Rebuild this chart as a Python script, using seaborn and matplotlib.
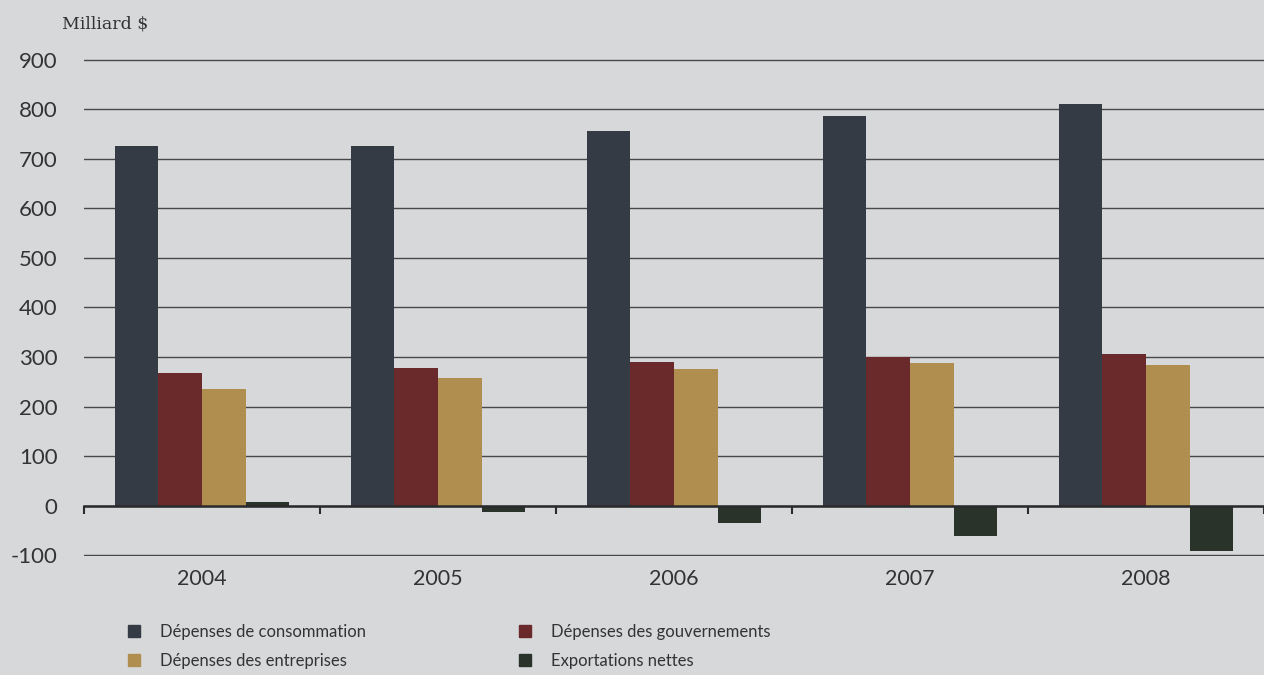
import pandas as pd
import numpy as np
import seaborn as sns
import matplotlib.pyplot as plt
from matplotlib.patches import Patch
from matplotlib.ticker import FixedLocator


# Data (Milliard $)

annees = ["2004", "2005", "2006", "2007", "2008"]
series = ["Dépenses de consommation", "Dépenses des gouvernements",
          "Dépenses des entreprises", "Exportations nettes"]
consommation = [726, 726, 757, 787, 811]
gouvernements = [268, 278, 289, 299, 307]
entreprises = [236, 258, 276, 287, 283]
exportations = [8, -14, -36, -62, -91]
couleurs = ["#343b44", "#6a2a2b", "#b08e50", "#29332a"]

df = pd.DataFrame({
    "annee": annees * 4,
    "serie": np.repeat(series, len(annees)),
    "valeur": consommation + gouvernements + entreprises + exportations,
})


# Figure

sns.set_theme(style="white")
plt.rcParams['font.family'] = ['Lato', 'DejaVu Sans']
plt.rcParams['axes.unicode_minus'] = False
bg = "#d7d8da"
txt = "#333335"

fig = plt.figure(figsize=(12.64, 6.75), dpi=100, facecolor=bg)
ax = fig.add_axes([0.0665, 0.1763, 0.9335, 0.7363], facecolor=bg)

ax.set_axisbelow(True)
ax.yaxis.grid(True, color="#48484a", linewidth=1.0)

sns.barplot(data=df, x="annee", y="valeur", hue="serie", order=annees,
            hue_order=series, palette=couleurs, width=0.74,
            saturation=1, linewidth=0, legend=False, ax=ax)

ax.set_xlim(-0.5, 4.5)
ax.set_ylim(-102, 902)
ax.set_yticks(range(-100, 1000, 100))
ax.tick_params(axis="y", length=0, pad=19, labelsize=16, labelcolor=txt)

# zero axis with ticks between the years
for s in ["top", "right", "left"]:
    ax.spines[s].set_visible(False)
ax.spines["bottom"].set_position(("data", 0))
ax.spines["bottom"].set_color("#2a2a2c")
ax.spines["bottom"].set_linewidth(1.8)
ax.xaxis.set_major_locator(FixedLocator(np.arange(-0.5, 5, 1)))
ax.xaxis.set_minor_locator(FixedLocator(range(len(annees))))
ax.set_xticklabels([], minor=False)
ax.set_xticklabels(annees, minor=True)
ax.tick_params(axis="x", which="major", direction="out", length=6,
               width=1.5, color="#2a2a2c", bottom=True)
ax.tick_params(axis="x", which="minor", length=0, pad=46, labelsize=15.5,
               labelcolor=txt)
ax.set_xlabel("")
ax.set_ylabel("")

fig.text(0.049, 0.964, "Milliard $", fontsize=12.5, color=txt,
         family="DejaVu Serif", va="center")

# Legend
handles = [Patch(color=couleurs[i]) for i in [0, 2, 1, 3]]
labels = [series[i] for i in [0, 2, 1, 3]]
fig.legend(handles, labels, ncol=2, loc="upper left",
           bbox_to_anchor=(0.101, 0.076), frameon=False,
           prop={"size": 12}, labelcolor=txt,
           handlelength=0.72, handleheight=0.72, handletextpad=1.2,
           columnspacing=9.2, labelspacing=0.8,
           borderaxespad=0, borderpad=0)

fig.savefig("out.png", dpi=100, facecolor=bg)
